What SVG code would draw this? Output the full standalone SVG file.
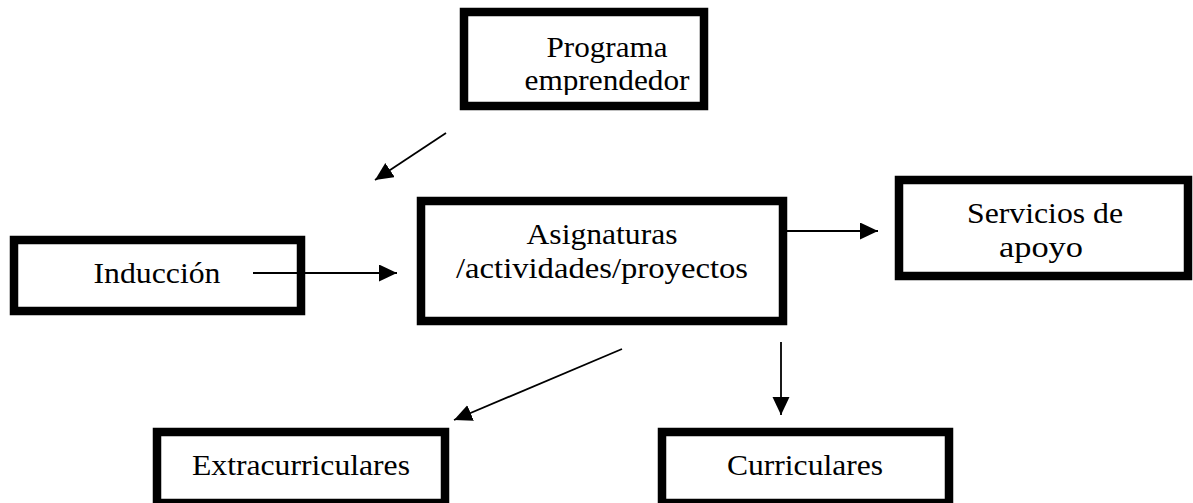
<svg xmlns="http://www.w3.org/2000/svg" width="1193" height="503" viewBox="0 0 1193 503">
  <style>
    .box { fill: #ffffff; stroke: #000000; stroke-width: 8.5; }
    .lbl { font-family: 'Liberation Serif', 'DejaVu Serif', serif; font-size: 30px; fill: #000000; text-anchor: middle; }
    .conn { stroke: #000000; stroke-width: 1.8; fill: none; marker-end: url(#arrow); }
  </style>
  <defs>
    <marker id="arrow" markerUnits="userSpaceOnUse" markerWidth="20" markerHeight="20" refX="18" refY="8.5" orient="auto">
      <path d="M0,0 L18,8.5 L0,17 z" fill="#000000"/>
    </marker>
    <clipPath id="clipTop"><rect x="468" y="16" width="236" height="79"/></clipPath>
    <clipPath id="clipServ"><rect x="903" y="185" width="282" height="82"/></clipPath>
  </defs>
  <rect width="1193" height="503" fill="#ffffff"/>

  <g id="programa-emprendedor">
    <rect class="box" x="464" y="12" width="240" height="94"/>
    <g clip-path="url(#clipTop)">
      <text class="lbl" x="607" y="57" textLength="121" lengthAdjust="spacingAndGlyphs">Programa</text>
      <text class="lbl" x="607" y="90" textLength="165" lengthAdjust="spacingAndGlyphs">emprendedor</text>
    </g>
  </g>

  <g id="induccion">
    <rect class="box" x="14" y="240" width="287" height="71"/>
    <text class="lbl" x="157" y="283" textLength="127" lengthAdjust="spacingAndGlyphs">Inducción</text>
  </g>

  <g id="asignaturas">
    <rect class="box" x="421" y="201" width="362" height="120"/>
    <text class="lbl" x="602" y="244" textLength="151" lengthAdjust="spacingAndGlyphs">Asignaturas</text>
    <text class="lbl" x="602" y="278" textLength="292" lengthAdjust="spacingAndGlyphs">/actividades/proyectos</text>
  </g>

  <g id="servicios-de-apoyo">
    <rect class="box" x="899" y="180" width="289" height="96"/>
    <g clip-path="url(#clipServ)">
      <text class="lbl" x="1045" y="223" textLength="156" lengthAdjust="spacingAndGlyphs">Servicios de</text>
      <text class="lbl" x="1041" y="257" textLength="84" lengthAdjust="spacingAndGlyphs">apoyo</text>
    </g>
  </g>

  <g id="extracurriculares">
    <rect class="box" x="157" y="432" width="288" height="71"/>
    <text class="lbl" x="301" y="475" textLength="218" lengthAdjust="spacingAndGlyphs">Extracurriculares</text>
  </g>

  <g id="curriculares">
    <rect class="box" x="662" y="432" width="287" height="71"/>
    <text class="lbl" x="805" y="475" textLength="156" lengthAdjust="spacingAndGlyphs">Curriculares</text>
  </g>

  <g id="connectors">
    <line class="conn" x1="446" y1="133" x2="375" y2="180"/>
    <line class="conn" x1="253" y1="273" x2="397" y2="273"/>
    <line class="conn" x1="787" y1="231" x2="878" y2="231"/>
    <line class="conn" x1="622" y1="349" x2="454" y2="420"/>
    <line class="conn" x1="781" y1="342" x2="781" y2="415"/>
  </g>
</svg>
